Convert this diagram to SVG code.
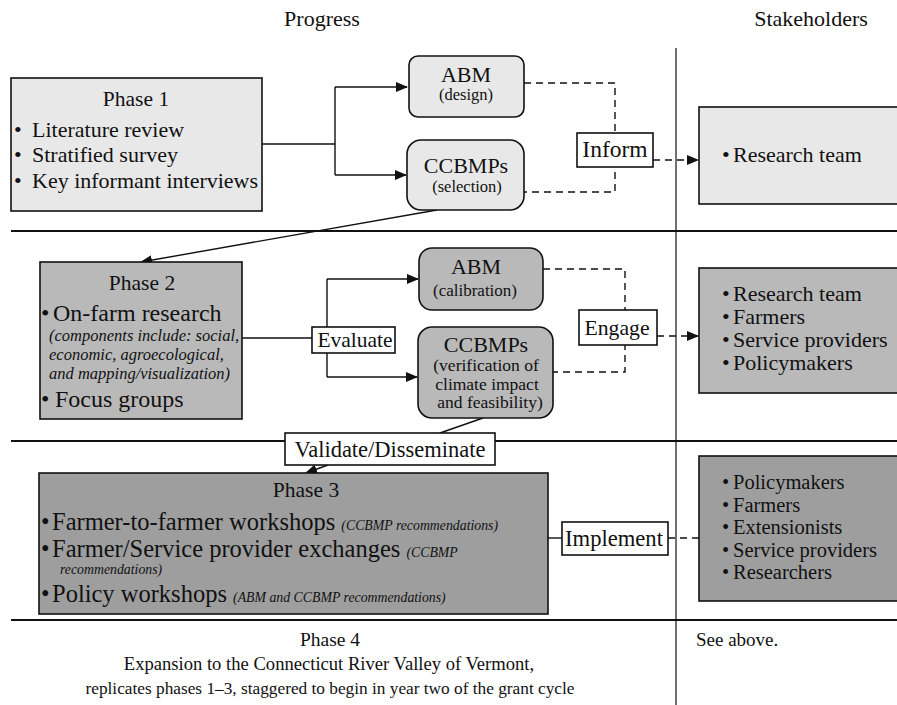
<svg xmlns="http://www.w3.org/2000/svg" width="897" height="705" viewBox="0 0 897 705">
<style>
text{font-family:"Liberation Serif","DejaVu Serif",serif;fill:#111}
.h{font-size:22px}
.t{font-size:22px}
.t3{font-size:20.5px}
.ti{font-size:21.5px}
.big{font-size:24px}
.s{font-size:16.5px}
.i{font-size:16.5px;font-style:italic}
.c{text-anchor:middle}
.b{stroke:#111;stroke-width:1.6}
.l1{fill:#e8e8e8}
.l2{fill:#b9b9b9}
.l3{fill:#9e9e9e}
.w{fill:#fff}
.sep{stroke:#111;stroke-width:1.8;fill:none}
.con{stroke:#111;stroke-width:1.4;fill:none}
.dash{stroke:#111;stroke-width:1.4;fill:none;stroke-dasharray:7 5}
</style>
<defs>
<marker id="ah" markerWidth="12" markerHeight="10" refX="11" refY="5" orient="auto" markerUnits="userSpaceOnUse">
<path d="M0,0 L12,5 L0,10 Z" fill="#111"/>
</marker>
</defs>

<g id="headers">
<text class="h c" x="322" y="26">Progress</text>
<text class="h c" x="811" y="26">Stakeholders</text>
</g>

<g id="separators">
<line class="sep" x1="11" y1="231" x2="897" y2="231"/>
<line class="sep" x1="11" y1="441" x2="897" y2="441"/>
<line class="sep" x1="11" y1="620" x2="897" y2="620"/>
<line x1="676" y1="48" x2="676" y2="705" stroke="#111" stroke-width="1.2"/>
</g>

<g id="connectors">
<path class="con" d="M262,144 H335 M335,87 V175"/>
<path class="con" d="M335,87 H407" marker-end="url(#ah)"/>
<path class="con" d="M335,175 H406" marker-end="url(#ah)"/>
<path class="dash" d="M524,83 H615 V192 H524"/>
<path class="dash" d="M653,160 H698" marker-end="url(#ah)"/>
<path class="con" d="M437,210 L141,262" marker-end="url(#ah)"/>
<path class="con" d="M242,338 H312 M327,279 V377"/>
<path class="con" d="M327,279 H418" marker-end="url(#ah)"/>
<path class="con" d="M327,377 H417" marker-end="url(#ah)"/>
<path class="dash" d="M543,269 H625 V372 H553"/>
<path class="dash" d="M657,336 H698" marker-end="url(#ah)"/>
<path class="con" d="M483,418 L440,433"/>
<path class="con" d="M328,465 L306,473" marker-end="url(#ah)"/>
<path class="con" d="M548,538 H562"/>
<path class="dash" d="M668,538 H714" marker-end="url(#ah)"/>
</g>

<g id="phase1">
<rect class="b l1" x="11" y="78" width="251" height="133"/>
<text class="ti c" x="136" y="106">Phase 1</text>
<text class="t" x="14" y="137">•<tspan x="32">Literature review</tspan></text>
<text class="t" x="14" y="162">•<tspan x="32">Stratified survey</tspan></text>
<text class="t" x="14" y="188">•<tspan x="32">Key informant interviews</tspan></text>
</g>

<g id="abm-design">
<rect class="b l1" x="409" y="56" width="115" height="61" rx="9"/>
<text class="t c" x="466" y="82">ABM</text>
<text class="s c" x="466" y="100">(design)</text>
</g>

<g id="ccbmps-selection">
<rect class="b l1" x="407" y="140" width="117" height="70" rx="14"/>
<text class="t c" x="466" y="173">CCBMPs</text>
<text class="s c" x="467" y="192">(selection)</text>
</g>

<g id="inform">
<rect class="b w" x="577" y="133" width="76" height="34"/>
<text class="c" x="615" y="157" font-size="23.5">Inform</text>
</g>

<g id="stake1">
<rect class="b l1" x="699" y="107" width="205" height="97"/>
<text class="t" x="722" y="162">•<tspan x="733">Research team</tspan></text>
</g>

<g id="phase2">
<rect class="b l2" x="40" y="262" width="202" height="157"/>
<text class="ti c" x="142" y="290">Phase 2</text>
<text class="big" x="41" y="321">•<tspan x="53">On-farm research</tspan></text>
<text class="i" x="49" y="341">(components include: social,</text>
<text class="i" x="49" y="360">economic, agroecological,</text>
<text class="i" x="49" y="379">and mapping/visualization)</text>
<text class="big" x="41" y="407">•<tspan x="55">Focus groups</tspan></text>
</g>

<g id="evaluate">
<rect class="b w" x="312" y="327" width="83" height="26"/>
<text class="c" x="355" y="347" font-size="21.5">Evaluate</text>
</g>

<g id="abm-calibration">
<rect class="b l2" x="419" y="248" width="124" height="62" rx="13"/>
<text class="t c" x="476" y="274">ABM</text>
<text class="c" x="475" y="296" font-size="17">(calibration)</text>
</g>

<g id="ccbmps-verification">
<rect class="b l2" x="418" y="327" width="135" height="91" rx="14"/>
<text class="t c" x="486" y="352">CCBMPs</text>
<text class="c" x="486" y="371" font-size="17.5">(verification of</text>
<text class="c" x="487" y="390" font-size="17.5">climate impact</text>
<text class="c" x="490" y="408" font-size="17.5">and feasibility)</text>
</g>

<g id="engage">
<rect class="b w" x="579" y="310" width="78" height="35"/>
<text class="c" x="617" y="335" font-size="21.7">Engage</text>
</g>

<g id="stake2">
<rect class="b l2" x="699" y="268" width="205" height="125"/>
<text class="t" x="722" y="301">•<tspan x="733">Research team</tspan></text>
<text class="t" x="722" y="324">•<tspan x="733">Farmers</tspan></text>
<text class="t" x="722" y="347">•<tspan x="733">Service providers</tspan></text>
<text class="t" x="722" y="370">•<tspan x="733">Policymakers</tspan></text>
</g>

<g id="validate">
<rect class="b w" x="285" y="433" width="210" height="32"/>
<text class="c" x="390" y="457" font-size="22.5">Validate/Disseminate</text>
</g>

<g id="phase3">
<rect class="b l3" x="39" y="473" width="509" height="141"/>
<text class="ti c" x="306" y="497">Phase 3</text>
<text font-size="24.5" x="41" y="530">•<tspan x="52">Farmer-to-farmer workshops </tspan><tspan font-size="13.8" font-style="italic">(CCBMP recommendations)</tspan></text>
<text font-size="24.5" x="41" y="557">•<tspan x="52">Farmer/Service provider exchanges </tspan><tspan font-size="13.8" font-style="italic">(CCBMP</tspan></text>
<text x="60" y="574" font-size="13.8" font-style="italic">recommendations)</text>
<text font-size="24.5" x="41" y="602">•<tspan x="52">Policy workshops </tspan><tspan font-size="13.8" font-style="italic">(ABM and CCBMP recommendations)</tspan></text>
</g>

<g id="implement">
<rect class="b w" x="562" y="522" width="106" height="33"/>
<text class="c" x="614" y="546" font-size="22.6">Implement</text>
</g>

<g id="stake3">
<rect class="b l3" x="699" y="456" width="205" height="145"/>
<text class="t3" x="722" y="489">•<tspan x="733">Policymakers</tspan></text>
<text class="t3" x="722" y="511.5">•<tspan x="733">Farmers</tspan></text>
<text class="t3" x="722" y="534">•<tspan x="733">Extensionists</tspan></text>
<text class="t3" x="722" y="556.5">•<tspan x="733">Service providers</tspan></text>
<text class="t3" x="722" y="579">•<tspan x="733">Researchers</tspan></text>
</g>

<g id="phase4">
<text class="c" x="330" y="646" font-size="19.5">Phase 4</text>
<text class="c" x="329" y="670" font-size="18.6">Expansion to the Connecticut River Valley of Vermont,</text>
<text class="c" x="330" y="694" font-size="17.3">replicates phases 1–3, staggered to begin in year two of the grant cycle</text>
<text x="696" y="646" font-size="19">See above.</text>
</g>
</svg>
